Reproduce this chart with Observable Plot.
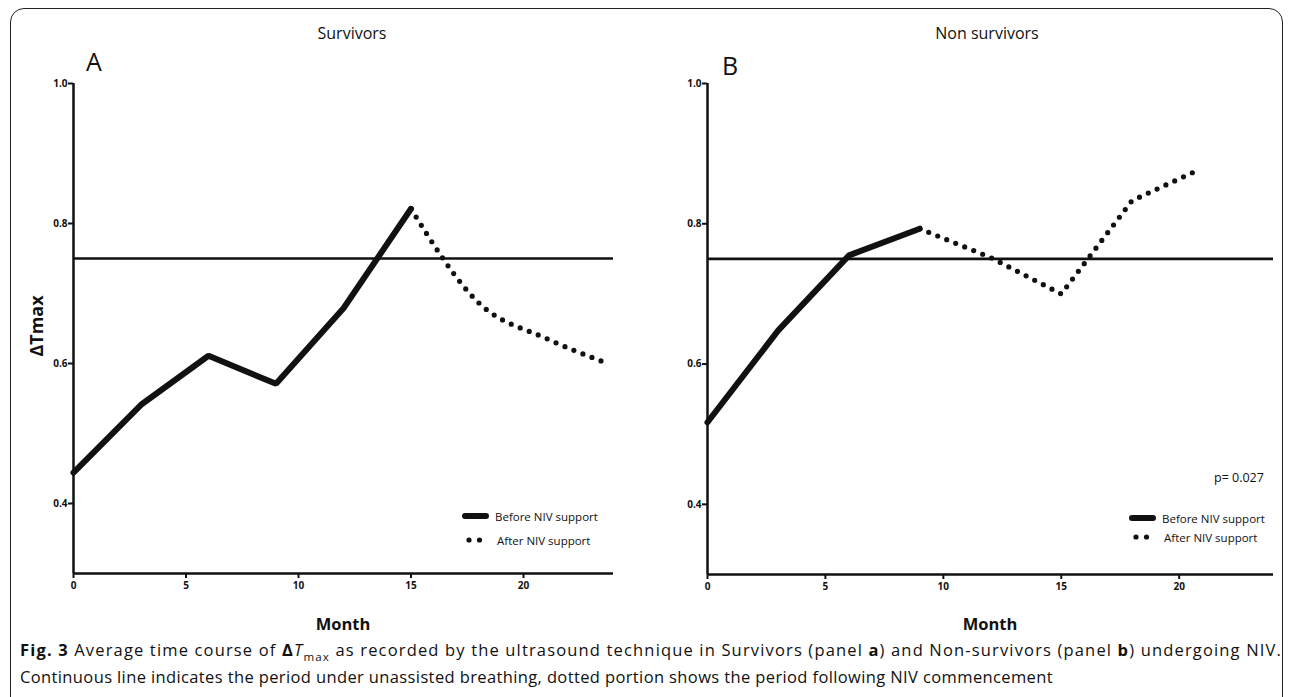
<!DOCTYPE html>
<html>
<head>
<meta charset="utf-8">
<script src="https://cdn.jsdelivr.net/npm/d3@7"></script>
<script src="https://cdn.jsdelivr.net/npm/@observablehq/plot@0.6"></script>
<style>
  html, body { margin: 0; padding: 0; background: #fff; }
  #root { position: relative; width: 1292px; height: 697px; overflow: hidden; font-family: "Open Sans", sans-serif; color: #111; }
  #frame { position: absolute; left: 10px; top: 8px; width: 1273px; height: 720px; border: 1.6px solid #222; border-radius: 14px; box-sizing: border-box; }
  .abs { position: absolute; white-space: nowrap; }
  .title { font-size: 16px; transform: translate(-50%, -50%); }
  .letter { font-size: 25px; transform: translate(0, -50%); }
  .xlab { font-size: 16.5px; font-weight: bold; transform: translate(-50%, -50%); }
  .ylab { font-size: 18px; font-weight: bold; transform: translate(-50%, -50%) rotate(-90deg); }
  .leg { font-size: 11.5px; transform: translate(0, -50%); }
  .cap { font-size: 16.5px; left: 20px; transform: translate(0, -50%); }
  .plot { position: absolute; top: 0; }
</style>
</head>
<body>
<div id="root">
  <div id="frame"></div>
</div>
<script>
// ---- data ----
const monthsABefore = [0, 3, 6, 9, 12, 15];
const valuesABefore = [0.444, 0.541, 0.611, 0.571, 0.679, 0.821];
const monthsAAfter = [15, 18, 21, 23.5];
const valuesAAfter = [0.821, 0.687, 0.636, 0.603];

const monthsBBefore = [0, 3, 6, 9];
const valuesBBefore = [0.517, 0.648, 0.755, 0.793];
const monthsBAfter = [9, 12, 15, 18, 20.7];
const valuesBAfter = [0.793, 0.752, 0.700, 0.833, 0.875];

const threshold = [0.75];
const xTicks = [0, 5, 10, 15, 20];
const yTicks = [0.4, 0.6, 0.8, 1.0];
const xDomain = [0, 24];
const yDomain = [0.3, 1.0];

const panelTitles = ["Survivors", "Non survivors"];
const panelLetters = ["A", "B"];
const legendLabels = ["Before NIV support", "After NIV support"];
const xLabel = "Month";
const yLabel = "ΔTmax";
const pValue = "p= 0.027";

const toRows = (xs, ys) => xs.map((x, i) => ({x, y: ys[i]}));

function panel(before, after, opts) {
  return Plot.plot({
    width: opts.width,
    height: 600,
    marginLeft: opts.ml,
    marginRight: opts.mr,
    marginTop: 83,
    marginBottom: opts.mb,
    style: {fontFamily: "'Open Sans', sans-serif", color: "#111", background: "transparent", overflow: "visible"},
    x: {domain: xDomain},
    y: {domain: yDomain},
    marks: [
      Plot.ruleY(threshold, {stroke: "#111", strokeWidth: 2.6}),
      Plot.line(after, {x: "x", y: "y", stroke: "#111", strokeWidth: 5.2, strokeDasharray: "0,9.7", strokeLinecap: "round", curve: opts.curve}),
      Plot.line(before, {x: "x", y: "y", stroke: "#111", strokeWidth: 6, strokeLinejoin: "miter", strokeLinecap: "round"}),
      Plot.ruleX([0], {stroke: "#111", strokeWidth: 2.5}),
      Plot.ruleY([0.3], {stroke: "#111", strokeWidth: 2.5}),
      Plot.axisX({ticks: xTicks, tickSize: 5, tickPadding: 3, fontSize: 10, fontWeight: "bold", label: null, strokeWidth: 2}),
      Plot.axisY({ticks: yTicks, tickFormat: ".1f", tickSize: 5, tickPadding: 1, fontSize: 10, fontWeight: "bold", label: null, strokeWidth: 2})
    ]
  });
}

const root = document.getElementById("root");

const pA = panel(toRows(monthsABefore, valuesABefore), toRows(monthsAAfter, valuesAAfter), {width: 640, ml: 73, mr: 27, mb: 27, curve: "monotone-x"});
pA.classList.add("plot"); pA.style.left = "0px";
root.appendChild(pA);

const pB = panel(toRows(monthsBBefore, valuesBBefore), toRows(monthsBAfter, valuesBAfter), {width: 652, ml: 67, mr: 19, mb: 26, curve: "linear"});
pB.classList.add("plot"); pB.style.left = "640px";
root.appendChild(pB);

function addText(cls, text, x, y, html) {
  const d = document.createElement("div");
  d.className = "abs " + cls;
  if (html) d.innerHTML = text; else d.textContent = text;
  d.style.left = x + "px"; d.style.top = y + "px";
  root.appendChild(d);
  return d;
}

addText("title", panelTitles[0], 352, 33);
addText("title", panelTitles[1], 987, 33);
addText("letter", panelLetters[0], 86, 61);
addText("letter", panelLetters[1], 722, 65);
addText("ylab", yLabel, 36, 326);
addText("xlab", xLabel, 343, 623);
addText("xlab", xLabel, 990, 623);
addText("leg", pValue, 1214, 477).style.fontSize = "12.5px";

function legend(x, y1, y2) {
  const svgNS = "http://www.w3.org/2000/svg";
  const s = document.createElementNS(svgNS, "svg");
  s.setAttribute("width", 30); s.setAttribute("height", 40);
  s.style.position = "absolute"; s.style.left = (x - 4) + "px"; s.style.top = (y1 - 10) + "px";
  const l = document.createElementNS(svgNS, "line");
  l.setAttribute("x1", 4); l.setAttribute("x2", 25); l.setAttribute("y1", 10); l.setAttribute("y2", 10);
  l.setAttribute("stroke", "#111"); l.setAttribute("stroke-width", 6); l.setAttribute("stroke-linecap", "round");
  s.appendChild(l);
  for (const cx of [8, 18.5]) {
    const c = document.createElementNS(svgNS, "circle");
    c.setAttribute("cx", cx); c.setAttribute("cy", 10 + (y2 - y1)); c.setAttribute("r", 2.6);
    c.setAttribute("fill", "#111");
    s.appendChild(c);
  }
  root.appendChild(s);
  addText("leg", legendLabels[0], x + 30, y1);
  addText("leg", legendLabels[1], x + 32, y2);
}
legend(465, 516, 540);
legend(1132, 518, 537);

const c1 = addText("cap", "<b>Fig. 3</b> Average time course of <b>Δ</b><i>T</i><sub style='font-size:70%'>max</sub> as recorded by the ultrasound technique in Survivors (panel <b>a</b>) and Non-survivors (panel <b>b</b>) undergoing NIV.", 20, 651, true);
const c2 = addText("cap", "Continuous line indicates the period under unassisted breathing, dotted portion shows the period following NIV commencement", 20, 676);
// fit: tighten letters so the last line has the reference width, then spread the first line evenly to full width
const n2 = c2.textContent.length;
const w2 = c2.getBoundingClientRect().width;
const ls = (1033 - w2) / n2;
c1.style.letterSpacing = ls + "px";
c2.style.letterSpacing = ls + "px";
const w1 = c1.getBoundingClientRect().width;
const n1 = c1.textContent.length;
c1.style.letterSpacing = (ls + (1262 - w1) / n1) + "px";
</script>
</body>
</html>
